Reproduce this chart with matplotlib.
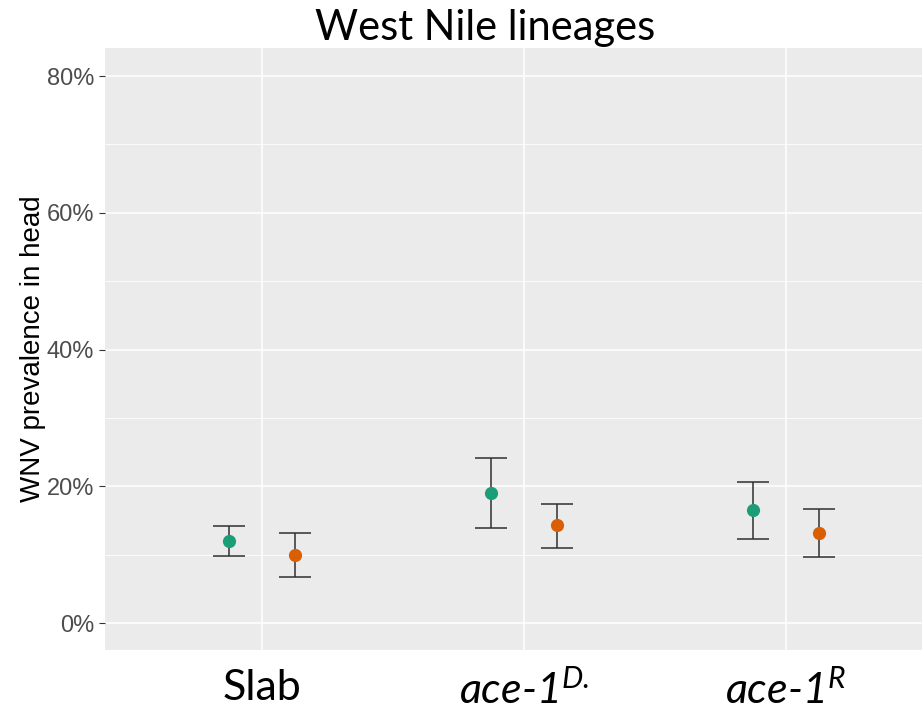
import numpy as np
import matplotlib
matplotlib.use("Agg")
import matplotlib.pyplot as plt
from matplotlib.ticker import MultipleLocator, FuncFormatter

# prevalence (%)
groups = ["Slab", r"$ace\text{-}1^{D.}$", r"$ace\text{-}1^{R}$"]
green_mid = [12.0, 19.0, 16.5]
green_lo = [9.8, 13.9, 12.3]
green_hi = [14.2, 24.2, 20.6]
orange_mid = [10.0, 14.4, 13.2]
orange_lo = [6.7, 11.0, 9.6]
orange_hi = [13.1, 17.4, 16.7]

GREEN = "#1b9e77"
ORANGE = "#d95f02"

plt.rcParams["font.family"] = ["Liberation Sans", "DejaVu Sans"]
plt.rcParams["mathtext.fontset"] = "custom"
plt.rcParams["mathtext.it"] = "Lato:italic"
plt.rcParams["mathtext.rm"] = "Lato:italic"

fig = plt.figure(figsize=(9.22, 7.11), dpi=100)
ax = fig.add_axes([105 / 922, 61 / 711, 1 - 105 / 922, (650 - 48) / 711])
ax.set_facecolor("#ebebeb")
for s in ax.spines.values():
    s.set_visible(False)

x = np.arange(1, len(groups) + 1)
dodge = 0.125

for off, mid, lo, hi, col in [(-dodge, green_mid, green_lo, green_hi, GREEN),
                              (dodge, orange_mid, orange_lo, orange_hi, ORANGE)]:
    mid = np.array(mid)
    err = [mid - np.array(lo), np.array(hi) - mid]
    ax.errorbar(x + off, mid, yerr=err, fmt="none", ecolor="#333333", alpha=0.8,
                elinewidth=1.4, capsize=11.5, capthick=1.4, zorder=3)
    ax.plot(x + off, mid, "o", color=col, markersize=9.5, markeredgewidth=0, zorder=4)

ax.set_xlim(0.4, 3.52)
ax.set_ylim(-3.94, 84.1)
ax.yaxis.set_major_locator(MultipleLocator(20))
ax.yaxis.set_minor_locator(MultipleLocator(10))
ax.yaxis.set_major_formatter(FuncFormatter(lambda v, p: "%d%%" % v))
ax.grid(which="major", color="white", lw=1.1, zorder=0)
ax.grid(which="minor", axis="y", color="white", lw=0.6, zorder=0)
ax.set_axisbelow(True)

ax.tick_params(axis="y", which="major", length=4, color="#333333", labelsize=17,
               labelcolor="#4d4d4d", pad=4)
ax.tick_params(axis="y", which="minor", length=0)
ax.tick_params(axis="x", length=0, pad=14)

ax.set_xticks(x, labels=groups)
for lab in ax.get_xticklabels():
    lab.set_fontfamily("Lato")
    lab.set_fontsize(31)
    lab.set_color("black")

ax.set_ylabel("WNV prevalence in head", fontsize=20, color="black", labelpad=0)

fig.text(485 / 922, 1 - 28 / 711, "West Nile lineages", ha="center", va="center",
         fontfamily="Lato", fontsize=30)

fig.savefig("out.png", dpi=100)
